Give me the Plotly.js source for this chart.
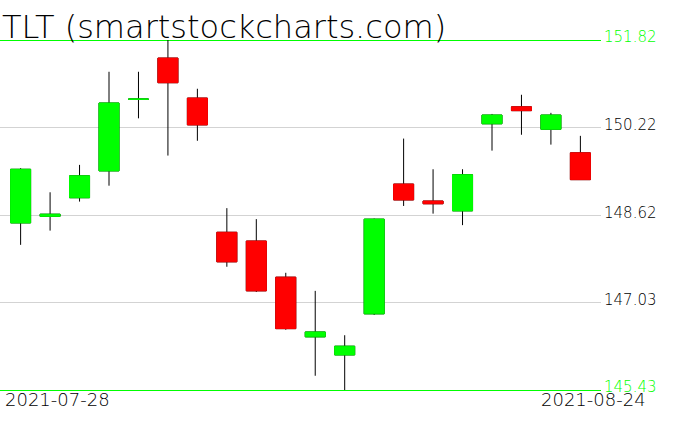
<!DOCTYPE html>
<html>
<head>
<meta charset="utf-8">
<script src="https://cdn.plot.ly/plotly-3.0.1.min.js"></script>
<style>html,body{margin:0;padding:0;background:#fff;}#chart{width:676px;height:431px;}</style>
</head>
<body>
<div id="chart"></div>
<script>
var dates = ['2021-07-28','2021-07-29','2021-07-30','2021-08-02','2021-08-03','2021-08-04','2021-08-05','2021-08-06','2021-08-09','2021-08-10',
             '2021-08-11','2021-08-12','2021-08-13','2021-08-16','2021-08-17','2021-08-18','2021-08-19','2021-08-20','2021-08-23','2021-08-24'];
var openP  = [148.48,148.60,148.94,149.43,150.74,151.49,150.76,148.31,148.15,147.49,146.40,146.07,146.82,149.19,148.88,148.70,150.29,150.60,150.19,149.76];
var highP  = [149.48,149.04,149.54,151.24,151.24,151.82,150.93,148.75,148.55,147.57,147.24,146.43,148.56,150.02,149.46,149.46,150.47,150.82,150.49,150.07];
var lowP   = [148.08,148.34,148.87,149.16,150.39,149.71,149.98,147.68,147.22,146.53,145.69,145.43,146.80,148.79,148.65,148.44,149.80,150.09,149.91,149.27];
var closeP = [149.46,148.64,149.34,150.67,150.74,151.04,150.27,147.77,147.24,146.55,146.49,146.23,148.55,148.90,148.83,149.36,150.45,150.53,150.45,149.27];
var midTicks = [150.22,148.62,147.03];
var edgeTicks = [151.82,145.43];
var titleText = 'TLT (smartstockcharts.com)';
var firstLabel = '2021-07-28', lastLabel = '2021-08-24';

var GREEN = '#00ff00', RED = '#ff0000';

// body extents from the OHLC arrays
var bodyTop = [], bodyBot = [];
for (var i = 0; i < dates.length; i++) {
  bodyTop.push(Math.max(openP[i], closeP[i]));
  bodyBot.push(Math.min(openP[i], closeP[i]));
}

var lo = Math.min.apply(null, edgeTicks), hi = Math.max.apply(null, edgeTicks);
var pad = 0.10954;
var yr = [lo - pad, hi + pad];

var traces = [
  { // black wicks (full high-low range)
    type: 'candlestick', x: dates, open: openP, high: highP, low: lowP, close: closeP,
    increasing: {line: {color: '#000', width: 1}, fillcolor: '#000'},
    decreasing: {line: {color: '#000', width: 1}, fillcolor: '#000'},
    whiskerwidth: 0, showlegend: false, hoverinfo: 'skip'
  },
  { // coloured bodies drawn over them
    type: 'candlestick', x: dates, open: openP, high: bodyTop, low: bodyBot, close: closeP,
    increasing: {line: {color: GREEN, width: 1}, fillcolor: GREEN},
    decreasing: {line: {color: RED, width: 1}, fillcolor: RED},
    whiskerwidth: 0, showlegend: false, hoverinfo: 'skip'
  },
  { type: 'scatter', mode: 'lines', x: [], y: [], yaxis: 'y2', showlegend: false, hoverinfo: 'skip' }
];

var layout = {
  width: 676, height: 431,
  margin: {l: 0, r: 75, t: 34, b: 35, pad: 0},
  paper_bgcolor: '#fff', plot_bgcolor: '#fff',
  showlegend: false,
  boxgap: 0.32, boxgroupgap: 0, boxmode: 'overlay',
  xaxis: {
    type: 'category', range: [-0.7, 19.7], showgrid: false, zeroline: false,
    showline: false, showticklabels: false, ticks: '', rangeslider: {visible: false},
    fixedrange: true
  },
  yaxis: {
    range: yr, side: 'right', tickvals: midTicks, ticktext: midTicks.map(function(v){return v.toFixed(2);}),
    showgrid: true, gridcolor: '#d3d3d3', gridwidth: 1, zeroline: false, showline: false, ticks: '',
    tickfont: {family: 'DejaVu Sans', size: 15, color: '#000', weight: 200}, ticklabelshift: -3, ticklabelstandoff: 2, fixedrange: true
  },
  yaxis2: {
    range: yr, overlaying: 'y', side: 'right', anchor: 'x', tickvals: edgeTicks,
    ticktext: edgeTicks.map(function(v){return v.toFixed(2);}),
    showgrid: true, gridcolor: GREEN, gridwidth: 1, zeroline: false, showline: false, ticks: '',
    tickfont: {family: 'DejaVu Sans', size: 15, color: GREEN, weight: 200}, ticklabelshift: -3, ticklabelstandoff: 2, fixedrange: true
  },
  annotations: [
    {text: titleText, xref: 'paper', yref: 'paper', x: 0, y: 1, xanchor: 'left', yanchor: 'bottom', yshift: -14,
     showarrow: false, font: {family: 'DejaVu Sans', size: 32, color: '#000', weight: 200}},
    {text: firstLabel, xref: 'paper', yref: 'paper', x: 3/601, y: -3/362, xanchor: 'left', yanchor: 'middle',
     showarrow: false, font: {family: 'DejaVu Sans', size: 18, color: '#000', weight: 200}},
    {text: lastLabel, xref: 'paper', yref: 'paper', x: 648/601, y: -3/362, xanchor: 'right', yanchor: 'middle',
     showarrow: false, font: {family: 'DejaVu Sans', size: 18, color: '#000', weight: 200}}
  ]
};

Plotly.newPlot('chart', traces, layout, {staticPlot: true, displayModeBar: false});
</script>
</body>
</html>
